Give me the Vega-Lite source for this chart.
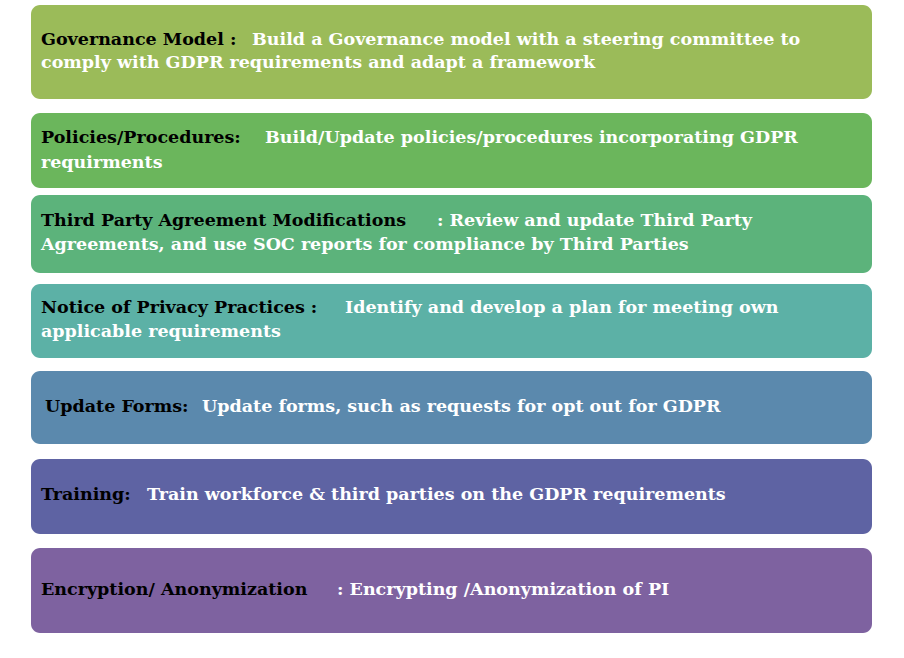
{
  "$schema": "https://vega.github.io/schema/vega-lite/v6.json",
  "autosize": {"type": "fit", "contains": "padding"},
  "width": 904,
  "height": 658,
  "padding": 0,
  "background": "white",
  "config": {"view": {"stroke": null}},
  "datasets": {
    "boxes": [
      {"step": "Governance", "top": 5, "bottom": 99},
      {"step": "Policies", "top": 113, "bottom": 188},
      {"step": "Third Party", "top": 195, "bottom": 273},
      {"step": "Notice", "top": 284, "bottom": 358},
      {"step": "Forms", "top": 371, "bottom": 444},
      {"step": "Training", "top": 459, "bottom": 534},
      {"step": "Encryption", "top": 548, "bottom": 633}
    ],
    "texts": [
      {"role": "title", "x": 41, "y": 40, "text": "Governance Model :"},
      {"role": "body", "x": 252, "y": 40, "text": "Build a Governance model with a steering committee to"},
      {"role": "body", "x": 41, "y": 63, "text": "comply with  GDPR requirements  and adapt a framework"},
      {"role": "title", "x": 41, "y": 138, "text": "Policies/Procedures:"},
      {"role": "body", "x": 265, "y": 138, "text": "Build/Update policies/procedures incorporating  GDPR"},
      {"role": "body", "x": 41, "y": 163, "text": "requirments"},
      {"role": "title", "x": 41, "y": 221, "text": "Third  Party Agreement Modifications"},
      {"role": "body", "x": 437, "y": 221, "text": ": Review and update Third Party"},
      {"role": "body", "x": 41, "y": 245, "text": "Agreements, and use SOC reports for  compliance by Third Parties"},
      {"role": "title", "x": 41, "y": 308, "text": "Notice   of Privacy Practices :"},
      {"role": "body", "x": 345, "y": 308, "text": "Identify and develop a plan for meeting  own"},
      {"role": "body", "x": 41, "y": 332, "text": "applicable requirements"},
      {"role": "title", "x": 45, "y": 407, "text": "Update Forms:"},
      {"role": "body", "x": 202, "y": 407, "text": "Update forms, such as requests for  opt out  for GDPR"},
      {"role": "title", "x": 41, "y": 495, "text": "Training:"},
      {"role": "body", "x": 147, "y": 495, "text": "Train workforce & third parties on the GDPR  requirements"},
      {"role": "title", "x": 41, "y": 590, "text": "Encryption/ Anonymization"},
      {"role": "body", "x": 337, "y": 590, "text": ": Encrypting /Anonymization of PI"}
    ]
  },
  "layer": [
    {
      "data": {"name": "boxes"},
      "mark": {"type": "rect", "cornerRadius": 9},
      "encoding": {
        "x": {"datum": 31, "type": "quantitative", "scale": {"domain": [0, 904], "range": [0, 904]}, "axis": null},
        "x2": {"datum": 872},
        "y": {"field": "top", "type": "quantitative", "scale": {"domain": [0, 658], "range": [0, 658]}, "axis": null},
        "y2": {"field": "bottom"},
        "color": {
          "field": "step", "type": "nominal", "legend": null,
          "scale": {
            "domain": ["Governance", "Policies", "Third Party", "Notice", "Forms", "Training", "Encryption"],
            "range": ["#9bbb59", "#6bb65c", "#5cb37b", "#5cb1a6", "#5b89ad", "#5e63a3", "#7e62a0"]
          }
        }
      }
    },
    {
      "data": {"name": "texts"},
      "mark": {"type": "text", "align": "left", "baseline": "middle", "font": "DejaVu Serif", "fontWeight": "bold", "fontSize": 17.5},
      "encoding": {
        "x": {"field": "x", "type": "quantitative", "scale": {"domain": [0, 904], "range": [0, 904]}, "axis": null},
        "y": {"field": "y", "type": "quantitative", "scale": {"domain": [0, 658], "range": [0, 658]}, "axis": null},
        "text": {"field": "text"},
        "color": {"field": "role", "type": "nominal", "legend": null, "scale": {"domain": ["title", "body"], "range": ["#000000", "#ffffff"]}}
      }
    }
  ],
  "resolve": {"scale": {"color": "independent"}}
}
